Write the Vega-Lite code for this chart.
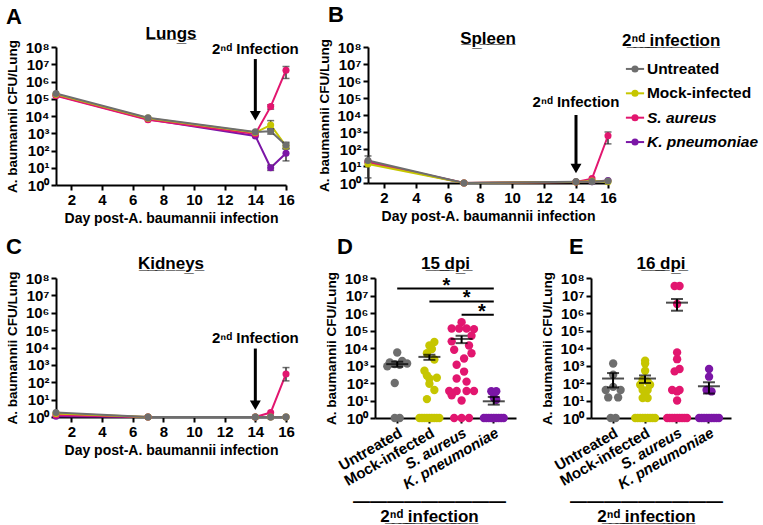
{
  "$schema": "https://vega.github.io/schema/vega-lite/v6.json",
  "background": "white",
  "padding": {"left": 5, "top": 3, "right": 0, "bottom": 0},
  "config": {
    "font": "Liberation Sans",
    "view": {"stroke": null},
    "axis": {"domainColor": "black", "domainWidth": 2, "tickColor": "black", "tickWidth": 2, "tickSize": 5, "labelFont": "Liberation Sans", "labelFontWeight": "bold", "labelFontSize": 15, "labelColor": "black", "titleFont": "Liberation Sans", "titleFontWeight": "bold", "titleColor": "black", "titleFontSize": 14, "grid": false, "labelPadding": 2, "labelOverlap": false},
    "title": {"font": "Liberation Sans", "fontWeight": "bold", "fontSize": 17, "color": "black"},
    "text": {"font": "Liberation Sans"}
  },
  "datasets": {
    "one": [{"a": 1}],
    "groups": [{"g": "Untreated"}, {"g": "Mock-infected"}, {"g": "S. aureus"}, {"g": "K. pneumoniae"}],
    "lungs": [
      {"g": "K. pneumoniae", "day": 1, "v": 160000}, {"g": "K. pneumoniae", "day": 7, "v": 6500}, {"g": "K. pneumoniae", "day": 14, "v": 700}, {"g": "K. pneumoniae", "day": 15, "v": 10, "lo": 7, "hi": 14}, {"g": "K. pneumoniae", "day": 16, "v": 70, "lo": 25, "hi": 120},
      {"g": "S. aureus", "day": 1, "v": 150000}, {"g": "S. aureus", "day": 7, "v": 6000}, {"g": "S. aureus", "day": 14, "v": 900}, {"g": "S. aureus", "day": 15, "v": 35000, "lo": 25000, "hi": 45000}, {"g": "S. aureus", "day": 16, "v": 4500000, "lo": 1500000, "hi": 7400000},
      {"g": "Mock-infected", "day": 1, "v": 180000}, {"g": "Mock-infected", "day": 7, "v": 7500}, {"g": "Mock-infected", "day": 14, "v": 1100}, {"g": "Mock-infected", "day": 15, "v": 3000, "lo": 1700, "hi": 5400}, {"g": "Mock-infected", "day": 16, "v": 180, "lo": 130, "hi": 260},
      {"g": "Untreated", "day": 1, "v": 200000}, {"g": "Untreated", "day": 7, "v": 8000}, {"g": "Untreated", "day": 14, "v": 1200}, {"g": "Untreated", "day": 15, "v": 1300, "lo": 900, "hi": 1800}, {"g": "Untreated", "day": 16, "v": 200, "lo": 140, "hi": 300}
    ],
    "spleen": [
      {"g": "K. pneumoniae", "day": 1, "v": 16}, {"g": "K. pneumoniae", "day": 7, "v": 1}, {"g": "K. pneumoniae", "day": 14, "v": 1.15}, {"g": "K. pneumoniae", "day": 15, "v": 1.2}, {"g": "K. pneumoniae", "day": 16, "v": 1.4},
      {"g": "S. aureus", "day": 1, "v": 18}, {"g": "S. aureus", "day": 7, "v": 1}, {"g": "S. aureus", "day": 14, "v": 1.15}, {"g": "S. aureus", "day": 15, "v": 1.8}, {"g": "S. aureus", "day": 16, "v": 600, "lo": 200, "hi": 1000},
      {"g": "Mock-infected", "day": 1, "v": 13}, {"g": "Mock-infected", "day": 7, "v": 1}, {"g": "Mock-infected", "day": 14, "v": 1.15}, {"g": "Mock-infected", "day": 15, "v": 1.3}, {"g": "Mock-infected", "day": 16, "v": 1.2},
      {"g": "Untreated", "day": 1, "v": 21, "lo": 2, "hi": 39}, {"g": "Untreated", "day": 7, "v": 1}, {"g": "Untreated", "day": 14, "v": 1.2}, {"g": "Untreated", "day": 15, "v": 1.2}, {"g": "Untreated", "day": 16, "v": 1.3}
    ],
    "kidneys": [
      {"g": "K. pneumoniae", "day": 1, "v": 1.1}, {"g": "K. pneumoniae", "day": 7, "v": 1}, {"g": "K. pneumoniae", "day": 14, "v": 1}, {"g": "K. pneumoniae", "day": 15, "v": 1}, {"g": "K. pneumoniae", "day": 16, "v": 1},
      {"g": "S. aureus", "day": 1, "v": 1.3}, {"g": "S. aureus", "day": 7, "v": 1}, {"g": "S. aureus", "day": 14, "v": 1}, {"g": "S. aureus", "day": 15, "v": 1.8}, {"g": "S. aureus", "day": 16, "v": 300, "lo": 120, "hi": 700},
      {"g": "Mock-infected", "day": 1, "v": 1.6}, {"g": "Mock-infected", "day": 7, "v": 1}, {"g": "Mock-infected", "day": 14, "v": 1}, {"g": "Mock-infected", "day": 15, "v": 1}, {"g": "Mock-infected", "day": 16, "v": 1},
      {"g": "Untreated", "day": 1, "v": 1.8}, {"g": "Untreated", "day": 7, "v": 1}, {"g": "Untreated", "day": 14, "v": 1}, {"g": "Untreated", "day": 15, "v": 1}, {"g": "Untreated", "day": 16, "v": 1}
    ],
    "d15": [
      {"g": "Untreated", "v": 5500, "m": 7}, {"g": "Untreated", "v": 1800, "m": 9}, {"g": "Untreated", "v": 1500, "m": 4}, {"g": "Untreated", "v": 1300, "m": 11}, {"g": "Untreated", "v": 1200, "m": 6}, {"g": "Untreated", "v": 1100, "m": 8}, {"g": "Untreated", "v": 900, "m": 3}, {"g": "Untreated", "v": 100, "m": 6}, {"g": "Untreated", "v": 1, "m": 6}, {"g": "Untreated", "v": 1, "m": 8},
      {"g": "Mock-infected", "v": 22000, "m": 9}, {"g": "Mock-infected", "v": 14000, "m": 7}, {"g": "Mock-infected", "v": 8700, "m": 8}, {"g": "Mock-infected", "v": 5000, "m": 6}, {"g": "Mock-infected", "v": 2200, "m": 9}, {"g": "Mock-infected", "v": 500, "m": 5}, {"g": "Mock-infected", "v": 270, "m": 6}, {"g": "Mock-infected", "v": 200, "m": 10}, {"g": "Mock-infected", "v": 180, "m": 7}, {"g": "Mock-infected", "v": 90, "m": 7}, {"g": "Mock-infected", "v": 40, "m": 9}, {"g": "Mock-infected", "v": 12, "m": 6},
      {"g": "Mock-infected", "v": 1, "m": 3}, {"g": "Mock-infected", "v": 1, "m": 4}, {"g": "Mock-infected", "v": 1, "m": 5}, {"g": "Mock-infected", "v": 1, "m": 6}, {"g": "Mock-infected", "v": 1, "m": 7}, {"g": "Mock-infected", "v": 1, "m": 8}, {"g": "Mock-infected", "v": 1, "m": 9}, {"g": "Mock-infected", "v": 1, "m": 10}, {"g": "Mock-infected", "v": 1, "m": 11},
      {"g": "S. aureus", "v": 300000, "m": 7}, {"g": "S. aureus", "v": 130000, "m": 3}, {"g": "S. aureus", "v": 130000, "m": 6}, {"g": "S. aureus", "v": 130000, "m": 9}, {"g": "S. aureus", "v": 120000, "m": 12}, {"g": "S. aureus", "v": 50000, "m": 11}, {"g": "S. aureus", "v": 24000, "m": 3}, {"g": "S. aureus", "v": 14000, "m": 10}, {"g": "S. aureus", "v": 8000, "m": 4}, {"g": "S. aureus", "v": 5000, "m": 11}, {"g": "S. aureus", "v": 2500, "m": 8}, {"g": "S. aureus", "v": 1100, "m": 5}, {"g": "S. aureus", "v": 450, "m": 8}, {"g": "S. aureus", "v": 180, "m": 5}, {"g": "S. aureus", "v": 120, "m": 9}, {"g": "S. aureus", "v": 35, "m": 2}, {"g": "S. aureus", "v": 35, "m": 5}, {"g": "S. aureus", "v": 35, "m": 9}, {"g": "S. aureus", "v": 35, "m": 12}, {"g": "S. aureus", "v": 20, "m": 3}, {"g": "S. aureus", "v": 10, "m": 7}, {"g": "S. aureus", "v": 1, "m": 4}, {"g": "S. aureus", "v": 1, "m": 7}, {"g": "S. aureus", "v": 1, "m": 10},
      {"g": "K. pneumoniae", "v": 34, "m": 6}, {"g": "K. pneumoniae", "v": 34, "m": 8}, {"g": "K. pneumoniae", "v": 15, "m": 7}, {"g": "K. pneumoniae", "v": 11, "m": 8},
      {"g": "K. pneumoniae", "v": 1, "m": 3}, {"g": "K. pneumoniae", "v": 1, "m": 4}, {"g": "K. pneumoniae", "v": 1, "m": 5}, {"g": "K. pneumoniae", "v": 1, "m": 6}, {"g": "K. pneumoniae", "v": 1, "m": 7}, {"g": "K. pneumoniae", "v": 1, "m": 8}, {"g": "K. pneumoniae", "v": 1, "m": 9}, {"g": "K. pneumoniae", "v": 1, "m": 10}, {"g": "K. pneumoniae", "v": 1, "m": 11}
    ],
    "d16": [
      {"g": "Untreated", "v": 1300, "m": 7}, {"g": "Untreated", "v": 300, "m": 7}, {"g": "Untreated", "v": 60, "m": 7}, {"g": "Untreated", "v": 40, "m": 4}, {"g": "Untreated", "v": 40, "m": 10}, {"g": "Untreated", "v": 15, "m": 5}, {"g": "Untreated", "v": 15, "m": 9}, {"g": "Untreated", "v": 1, "m": 6}, {"g": "Untreated", "v": 1, "m": 8},
      {"g": "Mock-infected", "v": 1900, "m": 7}, {"g": "Mock-infected", "v": 1300, "m": 7}, {"g": "Mock-infected", "v": 500, "m": 7}, {"g": "Mock-infected", "v": 150, "m": 6}, {"g": "Mock-infected", "v": 120, "m": 8}, {"g": "Mock-infected", "v": 80, "m": 5}, {"g": "Mock-infected", "v": 80, "m": 9}, {"g": "Mock-infected", "v": 40, "m": 6}, {"g": "Mock-infected", "v": 40, "m": 8}, {"g": "Mock-infected", "v": 27, "m": 7}, {"g": "Mock-infected", "v": 14, "m": 6}, {"g": "Mock-infected", "v": 14, "m": 8},
      {"g": "Mock-infected", "v": 1, "m": 3}, {"g": "Mock-infected", "v": 1, "m": 4}, {"g": "Mock-infected", "v": 1, "m": 5}, {"g": "Mock-infected", "v": 1, "m": 6}, {"g": "Mock-infected", "v": 1, "m": 7}, {"g": "Mock-infected", "v": 1, "m": 8}, {"g": "Mock-infected", "v": 1, "m": 9}, {"g": "Mock-infected", "v": 1, "m": 10}, {"g": "Mock-infected", "v": 1, "m": 11},
      {"g": "S. aureus", "v": 35000000, "m": 6}, {"g": "S. aureus", "v": 35000000, "m": 8}, {"g": "S. aureus", "v": 3300000, "m": 7}, {"g": "S. aureus", "v": 5600, "m": 7}, {"g": "S. aureus", "v": 2300, "m": 7}, {"g": "S. aureus", "v": 630, "m": 8}, {"g": "S. aureus", "v": 460, "m": 6}, {"g": "S. aureus", "v": 40, "m": 5}, {"g": "S. aureus", "v": 40, "m": 8}, {"g": "S. aureus", "v": 33, "m": 7}, {"g": "S. aureus", "v": 10, "m": 7},
      {"g": "S. aureus", "v": 1, "m": 3}, {"g": "S. aureus", "v": 1, "m": 4}, {"g": "S. aureus", "v": 1, "m": 5}, {"g": "S. aureus", "v": 1, "m": 6}, {"g": "S. aureus", "v": 1, "m": 7}, {"g": "S. aureus", "v": 1, "m": 8}, {"g": "S. aureus", "v": 1, "m": 9}, {"g": "S. aureus", "v": 1, "m": 10}, {"g": "S. aureus", "v": 1, "m": 11},
      {"g": "K. pneumoniae", "v": 630, "m": 7}, {"g": "K. pneumoniae", "v": 230, "m": 7}, {"g": "K. pneumoniae", "v": 40, "m": 6}, {"g": "K. pneumoniae", "v": 33, "m": 8},
      {"g": "K. pneumoniae", "v": 1, "m": 3}, {"g": "K. pneumoniae", "v": 1, "m": 4}, {"g": "K. pneumoniae", "v": 1, "m": 5}, {"g": "K. pneumoniae", "v": 1, "m": 6}, {"g": "K. pneumoniae", "v": 1, "m": 7}, {"g": "K. pneumoniae", "v": 1, "m": 8}, {"g": "K. pneumoniae", "v": 1, "m": 9}, {"g": "K. pneumoniae", "v": 1, "m": 10}, {"g": "K. pneumoniae", "v": 1, "m": 11}
    ],
    "s15": [
      {"g": "Untreated", "v": 1200, "lo": 850, "hi": 1650}, {"g": "Mock-infected", "v": 3100, "lo": 2100, "hi": 4100}, {"g": "S. aureus", "v": 33000, "lo": 19000, "hi": 50000}, {"g": "K. pneumoniae", "v": 9, "lo": 5.8, "hi": 16}
    ],
    "s16": [
      {"g": "Untreated", "v": 180, "lo": 56, "hi": 370}, {"g": "Mock-infected", "v": 180, "lo": 100, "hi": 270}, {"g": "S. aureus", "v": 3900000, "lo": 1350000, "hi": 6300000}, {"g": "K. pneumoniae", "v": 65, "lo": 25, "hi": 110}
    ]
  },
  "spacing": 11,
  "vconcat": [
    {
      "spacing": 18,
      "hconcat": [
        {
          "title": {"text": "A", "anchor": "start", "frame": "bounds", "fontSize": 22, "offset": -4},
          "vconcat": [
            {
              "title": {"text": "L̲u̲n̲g̲s̲", "offset": -3},
              "width": 230,
              "height": 138,
              "layer": [
                {"data": {"name": "lungs"}, "mark": {"type": "line", "strokeWidth": 2},
                 "encoding": {
                   "x": {"field": "day", "type": "quantitative", "scale": {"domain": [1, 16], "nice": false, "zero": false}, "axis": {"values": [2, 4, 6, 8, 10, 12, 14, 16], "title": "Day post-A. baumannii infection", "labelFlush": false, "labelOverlap": false}},
                   "y": {"field": "v", "type": "quantitative", "scale": {"type": "log", "domain": [1, 100000000]}, "axis": {"values": [1, 10, 100, 1000, 10000, 100000, 1000000, 10000000, 100000000], "labelExpr": "'10' + ['⁰','¹','²','³','⁴','⁵','⁶','⁷','⁸'][round(log(datum.value)/LN10)]", "title": "A. baumannii CFU/Lung", "titleFontSize": 13.5, "labelOverlap": false, "titlePadding": 5}},
                   "color": {"field": "g", "type": "nominal", "scale": {"domain": ["Untreated", "Mock-infected", "S. aureus", "K. pneumoniae"], "range": ["#6e6e6e", "#c6c600", "#e2166f", "#7b16a6"]}, "legend": null}}},
                {"data": {"name": "lungs"}, "transform": [{"filter": "isValid(datum.lo)"}], "mark": {"type": "errorbar", "ticks": {"size": 7}, "thickness": 1.5},
                 "encoding": {"x": {"field": "day", "type": "quantitative", "axis": {"values": [2, 4, 6, 8, 10, 12, 14, 16], "title": "Day post-A. baumannii infection", "labelFlush": false, "labelOverlap": false}}, "y": {"field": "lo", "type": "quantitative", "title": "A. baumannii CFU/Lung"}, "y2": {"field": "hi"}, "color": {"value": "#333333"}}},
                {"data": {"name": "lungs"}, "mark": {"type": "point", "filled": true, "size": 50, "opacity": 1},
                 "encoding": {"x": {"field": "day", "type": "quantitative", "axis": {"values": [2, 4, 6, 8, 10, 12, 14, 16], "title": "Day post-A. baumannii infection", "labelFlush": false, "labelOverlap": false}}, "y": {"field": "v", "type": "quantitative", "title": "A. baumannii CFU/Lung"}, "color": {"field": "g", "type": "nominal", "legend": null}}},
                {"data": {"name": "one"}, "mark": {"type": "rule", "strokeWidth": 3, "color": "black"}, "encoding": {"x": {"datum": 14, "type": "quantitative", "axis": {"values": [2, 4, 6, 8, 10, 12, 14, 16], "title": "Day post-A. baumannii infection", "labelFlush": false, "labelOverlap": false}}, "y": {"datum": 20000000, "type": "quantitative"}, "y2": {"datum": 16000}}},
                {"data": {"name": "one"}, "mark": {"type": "point", "shape": "triangle-down", "filled": true, "size": 120, "opacity": 1, "color": "black"}, "encoding": {"x": {"datum": 14, "type": "quantitative", "axis": {"values": [2, 4, 6, 8, 10, 12, 14, 16], "title": "Day post-A. baumannii infection", "labelFlush": false, "labelOverlap": false}}, "y": {"datum": 10500, "type": "quantitative"}}},
                {"data": {"name": "one"}, "mark": {"type": "text", "fontSize": 15, "fontWeight": "bold", "baseline": "middle", "color": "black"}, "encoding": {"x": {"datum": 14, "type": "quantitative", "axis": {"values": [2, 4, 6, 8, 10, 12, 14, 16], "title": "Day post-A. baumannii infection", "labelFlush": false, "labelOverlap": false}}, "y": {"datum": 76000000, "type": "quantitative"}, "text": {"value": "2ⁿᵈ Infection"}}}
              ]
            }
          ]
        },
        {
          "title": {"text": "B", "anchor": "start", "frame": "bounds", "fontSize": 22, "offset": 3, "dx": 10},
          "spacing": 2,
          "hconcat": [
            {
              "title": {"text": "S̲p̲l̲e̲e̲n̲", "offset": -9},
              "width": 240,
              "height": 136,
              "layer": [
                {"data": {"name": "spleen"}, "mark": {"type": "line", "strokeWidth": 2},
                 "encoding": {
                   "x": {"field": "day", "type": "quantitative", "scale": {"domain": [1, 16], "nice": false, "zero": false}, "axis": {"values": [2, 4, 6, 8, 10, 12, 14, 16], "title": "Day post-A. baumannii infection", "labelFlush": false, "labelOverlap": false}},
                   "y": {"field": "v", "type": "quantitative", "scale": {"type": "log", "domain": [1, 100000000]}, "axis": {"values": [1, 10, 100, 1000, 10000, 100000, 1000000, 10000000, 100000000], "labelExpr": "'10' + ['⁰','¹','²','³','⁴','⁵','⁶','⁷','⁸'][round(log(datum.value)/LN10)]", "title": "A. baumannii CFU/Lung", "titleFontSize": 13.5, "labelOverlap": false, "titlePadding": 5}},
                   "color": {"field": "g", "type": "nominal", "scale": {"domain": ["Untreated", "Mock-infected", "S. aureus", "K. pneumoniae"], "range": ["#6e6e6e", "#c6c600", "#e2166f", "#7b16a6"]}, "legend": null}}},
                {"data": {"name": "spleen"}, "transform": [{"filter": "isValid(datum.lo)"}], "mark": {"type": "errorbar", "ticks": {"size": 7}, "thickness": 1.5},
                 "encoding": {"x": {"field": "day", "type": "quantitative", "axis": {"values": [2, 4, 6, 8, 10, 12, 14, 16], "title": "Day post-A. baumannii infection", "labelFlush": false, "labelOverlap": false}}, "y": {"field": "lo", "type": "quantitative", "title": "A. baumannii CFU/Lung"}, "y2": {"field": "hi"}, "color": {"value": "#333333"}}},
                {"data": {"name": "spleen"}, "mark": {"type": "point", "filled": true, "size": 50, "opacity": 1},
                 "encoding": {"x": {"field": "day", "type": "quantitative", "axis": {"values": [2, 4, 6, 8, 10, 12, 14, 16], "title": "Day post-A. baumannii infection", "labelFlush": false, "labelOverlap": false}}, "y": {"field": "v", "type": "quantitative", "title": "A. baumannii CFU/Lung"}, "color": {"field": "g", "type": "nominal", "legend": null}}},
                {"data": {"name": "one"}, "mark": {"type": "rule", "strokeWidth": 3, "color": "black"}, "encoding": {"x": {"datum": 14, "type": "quantitative", "axis": {"values": [2, 4, 6, 8, 10, 12, 14, 16], "title": "Day post-A. baumannii infection", "labelFlush": false, "labelOverlap": false}}, "y": {"datum": 10000, "type": "quantitative"}, "y2": {"datum": 10}}},
                {"data": {"name": "one"}, "mark": {"type": "point", "shape": "triangle-down", "filled": true, "size": 120, "opacity": 1, "color": "black"}, "encoding": {"x": {"datum": 14, "type": "quantitative", "axis": {"values": [2, 4, 6, 8, 10, 12, 14, 16], "title": "Day post-A. baumannii infection", "labelFlush": false, "labelOverlap": false}}, "y": {"datum": 7.1, "type": "quantitative"}}},
                {"data": {"name": "one"}, "mark": {"type": "text", "fontSize": 15, "fontWeight": "bold", "baseline": "middle", "color": "black"}, "encoding": {"x": {"datum": 14, "type": "quantitative", "axis": {"values": [2, 4, 6, 8, 10, 12, 14, 16], "title": "Day post-A. baumannii infection", "labelFlush": false, "labelOverlap": false}}, "y": {"datum": 58000, "type": "quantitative"}, "text": {"value": "2ⁿᵈ Infection"}}}
              ]
            },
            {
              "title": {"text": "2̲ⁿ̲ᵈ̲ ̲i̲n̲f̲e̲c̲t̲i̲o̲n̲", "anchor": "start", "fontSize": 17, "offset": -3},
              "width": 130,
              "height": 117,
              "data": {"name": "groups"},
              "encoding": {
                "y": {"field": "g", "type": "nominal", "scale": {"type": "point", "padding": 0.9, "domain": ["Untreated", "Mock-infected", "S. aureus", "K. pneumoniae"]}, "axis": null},
                "color": {"field": "g", "type": "nominal", "scale": {"domain": ["Untreated", "Mock-infected", "S. aureus", "K. pneumoniae"], "range": ["#6e6e6e", "#c6c600", "#e2166f", "#7b16a6"]}, "legend": null}
              },
              "layer": [
                {"mark": {"type": "rule", "strokeWidth": 2}, "encoding": {"x": {"datum": 0.3, "type": "quantitative", "scale": {"domain": [0, 10]}, "axis": null}, "x2": {"datum": 1.7}}},
                {"mark": {"type": "point", "filled": true, "size": 50, "opacity": 1}, "encoding": {"x": {"datum": 1.0, "type": "quantitative", "axis": null}}},
                {"transform": [{"filter": "datum.g == 'Untreated' || datum.g == 'Mock-infected'"}], "mark": {"type": "text", "align": "left", "baseline": "middle", "fontSize": 15.5, "fontWeight": "bold"}, "encoding": {"x": {"datum": 1.92, "type": "quantitative", "axis": null}, "text": {"field": "g"}, "color": {"value": "black"}}},
                {"transform": [{"filter": "datum.g == 'S. aureus' || datum.g == 'K. pneumoniae'"}], "mark": {"type": "text", "align": "left", "baseline": "middle", "fontSize": 15.5, "fontWeight": "bold", "fontStyle": "italic"}, "encoding": {"x": {"datum": 1.92, "type": "quantitative", "axis": null}, "text": {"field": "g"}, "color": {"value": "black"}}}
              ]
            }
          ]
        }
      ]
    },
    {
      "spacing": 25,
      "hconcat": [
        {
          "title": {"text": "C", "anchor": "start", "frame": "bounds", "fontSize": 22, "offset": -4},
          "vconcat": [
            {
              "title": {"text": "K̲i̲d̲n̲e̲y̲s̲", "offset": -2},
              "width": 230,
              "height": 139,
              "layer": [
                {"data": {"name": "kidneys"}, "mark": {"type": "line", "strokeWidth": 2},
                 "encoding": {
                   "x": {"field": "day", "type": "quantitative", "scale": {"domain": [1, 16], "nice": false, "zero": false}, "axis": {"values": [2, 4, 6, 8, 10, 12, 14, 16], "title": "Day post-A. baumannii infection", "labelFlush": false, "labelOverlap": false}},
                   "y": {"field": "v", "type": "quantitative", "scale": {"type": "log", "domain": [1, 100000000]}, "axis": {"values": [1, 10, 100, 1000, 10000, 100000, 1000000, 10000000, 100000000], "labelExpr": "'10' + ['⁰','¹','²','³','⁴','⁵','⁶','⁷','⁸'][round(log(datum.value)/LN10)]", "title": "A. baumannii CFU/Lung", "titleFontSize": 13.5, "labelOverlap": false, "titlePadding": 5}},
                   "color": {"field": "g", "type": "nominal", "scale": {"domain": ["Untreated", "Mock-infected", "S. aureus", "K. pneumoniae"], "range": ["#6e6e6e", "#c6c600", "#e2166f", "#7b16a6"]}, "legend": null}}},
                {"data": {"name": "kidneys"}, "transform": [{"filter": "isValid(datum.lo)"}], "mark": {"type": "errorbar", "ticks": {"size": 7}, "thickness": 1.5},
                 "encoding": {"x": {"field": "day", "type": "quantitative", "axis": {"values": [2, 4, 6, 8, 10, 12, 14, 16], "title": "Day post-A. baumannii infection", "labelFlush": false, "labelOverlap": false}}, "y": {"field": "lo", "type": "quantitative", "title": "A. baumannii CFU/Lung"}, "y2": {"field": "hi"}, "color": {"value": "#333333"}}},
                {"data": {"name": "kidneys"}, "mark": {"type": "point", "filled": true, "size": 50, "opacity": 1},
                 "encoding": {"x": {"field": "day", "type": "quantitative", "axis": {"values": [2, 4, 6, 8, 10, 12, 14, 16], "title": "Day post-A. baumannii infection", "labelFlush": false, "labelOverlap": false}}, "y": {"field": "v", "type": "quantitative", "title": "A. baumannii CFU/Lung"}, "color": {"field": "g", "type": "nominal", "legend": null}}},
                {"data": {"name": "one"}, "mark": {"type": "rule", "strokeWidth": 3, "color": "black"}, "encoding": {"x": {"datum": 14, "type": "quantitative", "axis": {"values": [2, 4, 6, 8, 10, 12, 14, 16], "title": "Day post-A. baumannii infection", "labelFlush": false, "labelOverlap": false}}, "y": {"datum": 8700, "type": "quantitative"}, "y2": {"datum": 6.3}}},
                {"data": {"name": "one"}, "mark": {"type": "point", "shape": "triangle-down", "filled": true, "size": 120, "opacity": 1, "color": "black"}, "encoding": {"x": {"datum": 14, "type": "quantitative", "axis": {"values": [2, 4, 6, 8, 10, 12, 14, 16], "title": "Day post-A. baumannii infection", "labelFlush": false, "labelOverlap": false}}, "y": {"datum": 4.7, "type": "quantitative"}}},
                {"data": {"name": "one"}, "mark": {"type": "text", "fontSize": 15, "fontWeight": "bold", "baseline": "middle", "color": "black"}, "encoding": {"x": {"datum": 14, "type": "quantitative", "axis": {"values": [2, 4, 6, 8, 10, 12, 14, 16], "title": "Day post-A. baumannii infection", "labelFlush": false, "labelOverlap": false}}, "y": {"datum": 33000, "type": "quantitative"}, "text": {"value": "2ⁿᵈ Infection"}}}
              ]
            }
          ]
        },
        {
          "spacing": 24,
          "hconcat": [
            {
              "title": {"text": "D", "anchor": "start", "frame": "bounds", "fontSize": 22, "offset": -4, "dx": 12},
              "vconcat": [
                {
                  "title": {"text": "1̲5̲ ̲d̲p̲i̲", "offset": -2},
                  "width": 141,
                  "height": 140,
                  "layer": [
                    {"data": {"name": "d15"}, "mark": {"type": "point", "filled": true, "size": 70, "opacity": 1},
                     "encoding": {
                       "x": {"field": "g", "type": "nominal", "scale": {"domain": ["Untreated", "Mock-infected", "S. aureus", "K. pneumoniae"], "paddingInner": 0, "paddingOuter": 0.19}, "axis": {"title": ["—————————", "2̲ⁿ̲ᵈ̲ ̲i̲n̲f̲e̲c̲t̲i̲o̲n̲"], "titleFontSize": 17, "titleLineHeight": 15, "titlePadding": 2, "titleX": 54, "labelAngle": -30, "labelFontStyle": {"condition": {"test": "datum.value == 'S. aureus' || datum.value == 'K. pneumoniae'", "value": "italic"}, "value": "normal"}}},
                       "xOffset": {"field": "m", "type": "ordinal", "scale": {"domain": [1, 2, 3, 4, 5, 6, 7, 8, 9, 10, 11, 12, 13]}},
                       "y": {"field": "v", "type": "quantitative", "scale": {"type": "log", "domain": [1, 100000000]}, "axis": {"values": [1, 10, 100, 1000, 10000, 100000, 1000000, 10000000, 100000000], "labelExpr": "'10' + ['⁰','¹','²','³','⁴','⁵','⁶','⁷','⁸'][round(log(datum.value)/LN10)]", "title": "A. baumannii CFU/Lung", "titleFontSize": 13.5, "labelOverlap": false, "titlePadding": 5}},
                       "color": {"field": "g", "type": "nominal", "scale": {"domain": ["Untreated", "Mock-infected", "S. aureus", "K. pneumoniae"], "range": ["#6e6e6e", "#c6c600", "#e2166f", "#7b16a6"]}, "legend": null}}},
                    {"data": {"name": "s15"}, "mark": {"type": "tick", "size": 22, "thickness": 2, "color": "black"},
                     "encoding": {"x": {"field": "g", "type": "nominal"}, "y": {"field": "v", "type": "quantitative", "title": "A. baumannii CFU/Lung"}}},
                    {"data": {"name": "s15"}, "mark": {"type": "errorbar", "ticks": {"size": 12}, "thickness": 2, "color": "black"},
                     "encoding": {"x": {"field": "g", "type": "nominal"}, "y": {"field": "lo", "type": "quantitative", "title": "A. baumannii CFU/Lung"}, "y2": {"field": "hi"}}},
                    {"data": {"name": "one"}, "mark": {"type": "rule", "strokeWidth": 2, "color": "black"}, "encoding": {"x": {"datum": "Untreated", "type": "nominal"}, "x2": {"datum": "K. pneumoniae"}, "y": {"datum": 25000000, "type": "quantitative"}}},
                    {"data": {"name": "one"}, "mark": {"type": "rule", "strokeWidth": 2, "color": "black"}, "encoding": {"x": {"datum": "Mock-infected", "type": "nominal"}, "x2": {"datum": "K. pneumoniae"}, "y": {"datum": 4600000, "type": "quantitative"}}},
                    {"data": {"name": "one"}, "mark": {"type": "rule", "strokeWidth": 2, "color": "black"}, "encoding": {"x": {"datum": "S. aureus", "type": "nominal"}, "x2": {"datum": "K. pneumoniae"}, "y": {"datum": 800000, "type": "quantitative"}}},
                    {"data": {"name": "one"}, "mark": {"type": "text", "fontSize": 20, "fontWeight": "bold", "baseline": "alphabetic", "dx": 17, "dy": 3, "color": "black"}, "encoding": {"x": {"datum": "Mock-infected", "type": "nominal"}, "y": {"datum": 25000000, "type": "quantitative"}, "text": {"value": "*"}}},
                    {"data": {"name": "one"}, "mark": {"type": "text", "fontSize": 20, "fontWeight": "bold", "baseline": "alphabetic", "dx": 5, "dy": 3, "color": "black"}, "encoding": {"x": {"datum": "S. aureus", "type": "nominal"}, "y": {"datum": 4600000, "type": "quantitative"}, "text": {"value": "*"}}},
                    {"data": {"name": "one"}, "mark": {"type": "text", "fontSize": 20, "fontWeight": "bold", "baseline": "alphabetic", "dx": -12, "dy": 3, "color": "black"}, "encoding": {"x": {"datum": "K. pneumoniae", "type": "nominal"}, "y": {"datum": 800000, "type": "quantitative"}, "text": {"value": "*"}}}
                  ]
                }
              ]
            },
            {
              "title": {"text": "E", "anchor": "start", "frame": "bounds", "fontSize": 22, "offset": -4, "dx": 28},
              "vconcat": [
                {
                  "title": {"text": "1̲6̲ ̲d̲p̲i̲", "offset": -2},
                  "width": 140,
                  "height": 140,
                  "layer": [
                    {"data": {"name": "d16"}, "mark": {"type": "point", "filled": true, "size": 70, "opacity": 1},
                     "encoding": {
                       "x": {"field": "g", "type": "nominal", "scale": {"domain": ["Untreated", "Mock-infected", "S. aureus", "K. pneumoniae"], "paddingInner": 0, "paddingOuter": 0.19}, "axis": {"title": ["—————————", "2̲ⁿ̲ᵈ̲ ̲i̲n̲f̲e̲c̲t̲i̲o̲n̲"], "titleFontSize": 17, "titleLineHeight": 15, "titlePadding": 2, "titleX": 55, "labelAngle": -30, "labelFontStyle": {"condition": {"test": "datum.value == 'S. aureus' || datum.value == 'K. pneumoniae'", "value": "italic"}, "value": "normal"}}},
                       "xOffset": {"field": "m", "type": "ordinal", "scale": {"domain": [1, 2, 3, 4, 5, 6, 7, 8, 9, 10, 11, 12, 13]}},
                       "y": {"field": "v", "type": "quantitative", "scale": {"type": "log", "domain": [1, 100000000]}, "axis": {"values": [1, 10, 100, 1000, 10000, 100000, 1000000, 10000000, 100000000], "labelExpr": "'10' + ['⁰','¹','²','³','⁴','⁵','⁶','⁷','⁸'][round(log(datum.value)/LN10)]", "title": "A. baumannii CFU/Lung", "titleFontSize": 13.5, "labelOverlap": false, "titlePadding": 5}},
                       "color": {"field": "g", "type": "nominal", "scale": {"domain": ["Untreated", "Mock-infected", "S. aureus", "K. pneumoniae"], "range": ["#6e6e6e", "#c6c600", "#e2166f", "#7b16a6"]}, "legend": null}}},
                    {"data": {"name": "s16"}, "mark": {"type": "tick", "size": 22, "thickness": 2, "color": "black"},
                     "encoding": {"x": {"field": "g", "type": "nominal"}, "y": {"field": "v", "type": "quantitative", "title": "A. baumannii CFU/Lung"}}},
                    {"data": {"name": "s16"}, "mark": {"type": "errorbar", "ticks": {"size": 12}, "thickness": 2, "color": "black"},
                     "encoding": {"x": {"field": "g", "type": "nominal"}, "y": {"field": "lo", "type": "quantitative", "title": "A. baumannii CFU/Lung"}, "y2": {"field": "hi"}}}
                  ]
                }
              ]
            }
          ]
        }
      ]
    }
  ]
}
